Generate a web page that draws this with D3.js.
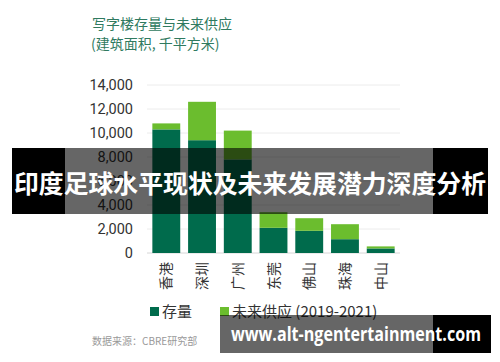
<!DOCTYPE html>
<meta charset="utf-8">
<title>写字楼存量与未来供应</title>
<script src="https://d3js.org/d3.v7.min.js"></script>
<style>
  body { margin: 0; background: #fff; }
  text { font-family: "Noto Sans CJK SC", "Noto Sans", sans-serif; }
</style>
<div id="my_dataviz"></div>
<script>
// data (千平方米)
var cities = ["香港", "深圳", "广州", "东莞", "佛山", "珠海", "中山"];
var stock = [10300, 9400, 7800, 2100, 1850, 1150, 380];
var future = [500, 3200, 2400, 1300, 1050, 1250, 170];
var yTicks = [0, 2000, 4000, 6000, 8000, 10000, 12000, 14000];
var seriesNames = ["存量", "未来供应 (2019-2021)"];
var colors = ["#006b4c", "#6bbd2e"];

var width = 500, height = 362;

var svg = d3.select("#my_dataviz")
  .append("svg")
    .attr("width", width)
    .attr("height", height);

// title
svg.append("text")
  .attr("x", 92).attr("y", 29)
  .style("font-size", "14px")
  .style("fill", "#2f7a5f")
  .text("写字楼存量与未来供应");
svg.append("text")
  .attr("x", 91).attr("y", 49)
  .style("font-size", "14px")
  .style("fill", "#2f7a5f")
  .text("(建筑面积, 千平方米)");

// scales
var x = d3.scaleBand()
  .domain(cities)
  .range([147, 400])
  .paddingInner(0.22)
  .paddingOuter(0.15);

var y = d3.scaleLinear()
  .domain([0, 14000])
  .range([253, 85]);

// gridlines
svg.selectAll("grid")
  .data(yTicks).enter()
  .append("line")
    .attr("x1", 147).attr("x2", 400)
    .attr("y1", function(d) { return y(d); })
    .attr("y2", function(d) { return y(d); })
    .style("stroke", function(d) { return d == 0 ? "#d6d6d6" : "#ececec"; })
    .style("stroke-width", 1);

// y labels
svg.selectAll("ylab")
  .data(yTicks).enter()
  .append("text")
    .attr("x", 133)
    .attr("y", function(d) { return y(d); })
    .attr("dy", "0.36em")
    .style("text-anchor", "end")
    .style("font-family", "Roboto, 'Noto Sans', sans-serif")
    .style("font-size", "14.5px")
    .style("fill", "#333")
    .text(function(d) { return d3.format(",")(d); });

// stacked bars
var rows = cities.map(function(c, i) { return {city: c, stock: stock[i], future: future[i]}; });
var stacked = d3.stack().keys(["stock", "future"])(rows);

svg.selectAll("layer")
  .data(stacked).enter()
  .append("g")
    .style("fill", function(d, i) { return colors[i]; })
  .selectAll("rect")
  .data(function(d) { return d; }).enter()
  .append("rect")
    .attr("x", function(d) { return x(d.data.city); })
    .attr("y", function(d) { return y(d[1]); })
    .attr("width", x.bandwidth())
    .attr("height", function(d) { return y(d[0]) - y(d[1]); });

// x labels, rotated
svg.selectAll("xlab")
  .data(cities).enter()
  .append("text")
    .attr("transform", function(d) {
      return "translate(" + (x(d) + x.bandwidth() / 2) + ",262) rotate(-90)";
    })
    .attr("dy", "0.36em")
    .style("text-anchor", "end")
    .style("font-size", "14px")
    .style("fill", "#333")
    .text(function(d) { return d; });

// legend
var legendX = [150, 220];
seriesNames.forEach(function(name, i) {
  svg.append("rect")
    .attr("x", legendX[i]).attr("y", 307)
    .attr("width", 9).attr("height", 9)
    .style("fill", colors[i]);
  svg.append("text")
    .attr("x", legendX[i] + 12).attr("y", 317)
    .style("font-size", "15px")
    .style("fill", "#333")
    .text(name);
});

// source
svg.append("text")
  .attr("x", 92).attr("y", 345)
  .style("font-size", "10px")
  .style("fill", "#999")
  .text("数据来源：CBRE研究部");

// overlay banner
svg.append("rect").attr("x", 12).attr("y", 148).attr("width", 53).attr("height", 66).style("fill", "#000");
svg.append("rect").attr("x", 65).attr("y", 148).attr("width", 368).attr("height", 66).style("fill", "rgba(0,0,0,0.6)");
svg.append("rect").attr("x", 433).attr("y", 148).attr("width", 55).attr("height", 66).style("fill", "#000");
svg.append("text")
  .attr("x", 250).attr("y", 193)
  .style("text-anchor", "middle")
  .style("font-size", "25px")
  .style("font-weight", "bold")
  .style("fill", "#fff")
  .attr("textLength", 472)
  .attr("lengthAdjust", "spacingAndGlyphs")
  .text("印度足球水平现状及未来发展潜力深度分析");

// url banner
svg.append("rect").attr("x", 220).attr("y", 315).attr("width", 213).attr("height", 38).style("fill", "rgba(0,0,0,0.6)");
svg.append("rect").attr("x", 433).attr("y", 315).attr("width", 58).attr("height", 38).style("fill", "#000");
svg.append("text")
  .attr("x", 231).attr("y", 341)
  .style("font-family", "'Open Sans', 'Noto Sans', sans-serif")
  .style("font-size", "19px")
  .style("font-weight", "bold")
  .style("fill", "#fff")
  .attr("textLength", 250)
  .attr("lengthAdjust", "spacingAndGlyphs")
  .text("www.alt-ngentertainment.com");
</script>
